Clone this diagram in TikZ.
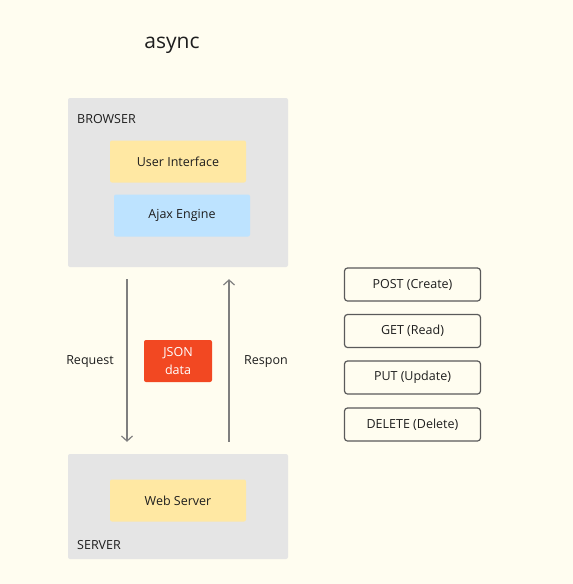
\documentclass[tikz,border=0pt]{standalone}
\usepackage{fontspec}
\setmainfont{Open Sans}
\usetikzlibrary{arrows.meta}
\definecolor{bgc}{HTML}{FFFDF0}
\definecolor{grayc}{HTML}{E5E5E5}
\definecolor{yel}{HTML}{FFE8A3}
\definecolor{blu}{HTML}{BDE3FF}
\definecolor{redc}{HTML}{F24822}
\definecolor{txt}{HTML}{1E1E1E}
\definecolor{arrc}{HTML}{7F7F7F}
\definecolor{bord}{HTML}{5A5A5A}
\tikzset{
  container/.style={fill=grayc, rounded corners=2pt, inner sep=0pt, draw=none},
  ybox/.style={fill=yel, rounded corners=2pt, minimum width=136pt, minimum height=42pt, inner sep=0pt, text=txt, font=\fontsize{12.5pt}{15pt}\selectfont},
  bbox/.style={fill=blu, rounded corners=2pt, minimum width=136pt, minimum height=42pt, inner sep=0pt, text=txt, font=\fontsize{12.5pt}{15pt}\selectfont},
  lbl/.style={text=txt, inner sep=0pt, font=\fontsize{12.5pt}{15pt}\selectfont},
  method/.style={draw=bord, line width=1.2pt, fill=bgc, rounded corners=3pt, minimum width=136pt, minimum height=33pt, inner sep=0pt, text=txt, font=\fontsize{12.5pt}{15pt}\selectfont},
  json/.style={fill=redc, rounded corners=2pt, minimum width=68pt, minimum height=42pt, inner sep=0pt, text=white, align=center, font=\fontsize{12.5pt}{18pt}\selectfont},
  arr/.style={draw=arrc, line width=1.2pt, -{Straight Barb[length=5pt,width=11pt,line width=1.2pt]}},
}
\begin{document}
\begin{tikzpicture}[x=1pt,y=-1pt]
\fill[bgc] (0,0) rectangle (573,584);
\useasboundingbox (0,0) rectangle (573,584);
\node[text=txt, inner sep=0pt, font=\fontsize{21pt}{24pt}\selectfont] (title) at (172,45) {async};
\node[container, minimum width=220pt, minimum height=169pt] (browser) at (178,182.5) {};
\node[lbl, anchor=west] (browserlbl) at (77,119.5) {BROWSER};
\node[ybox] (ui) at (178,161.5) {User Interface};
\node[bbox] (ajax) at (182,215.5) {Ajax Engine};
\node[container, minimum width=220pt, minimum height=105pt] (server) at (178,506.5) {};
\node[ybox] (web) at (178,500.5) {Web Server};
\node[lbl, anchor=west] (serverlbl) at (77,545.5) {SERVER};
\node[json] (json) at (178,361) {JSON\\data};
\node[lbl] (req) at (90,361.5) {Request};
\node[lbl] (resp) at (266,361.5) {Respon};
\draw[arr] ([xshift=-51pt,yshift=-12pt]browser.south) -- ([xshift=-51pt,yshift=12pt]server.north);
\draw[arr] ([xshift=51pt,yshift=12pt]server.north) -- ([xshift=51pt,yshift=-12pt]browser.south);
\node[method] (post) at (412.5,284.5) {POST (Create)};
\node[method] (get) at (412.5,331) {GET (Read)};
\node[method] (put) at (412.5,377.5) {PUT (Update)};
\node[method] (del) at (412.5,424.5) {DELETE (Delete)};
\end{tikzpicture}
\end{document}
